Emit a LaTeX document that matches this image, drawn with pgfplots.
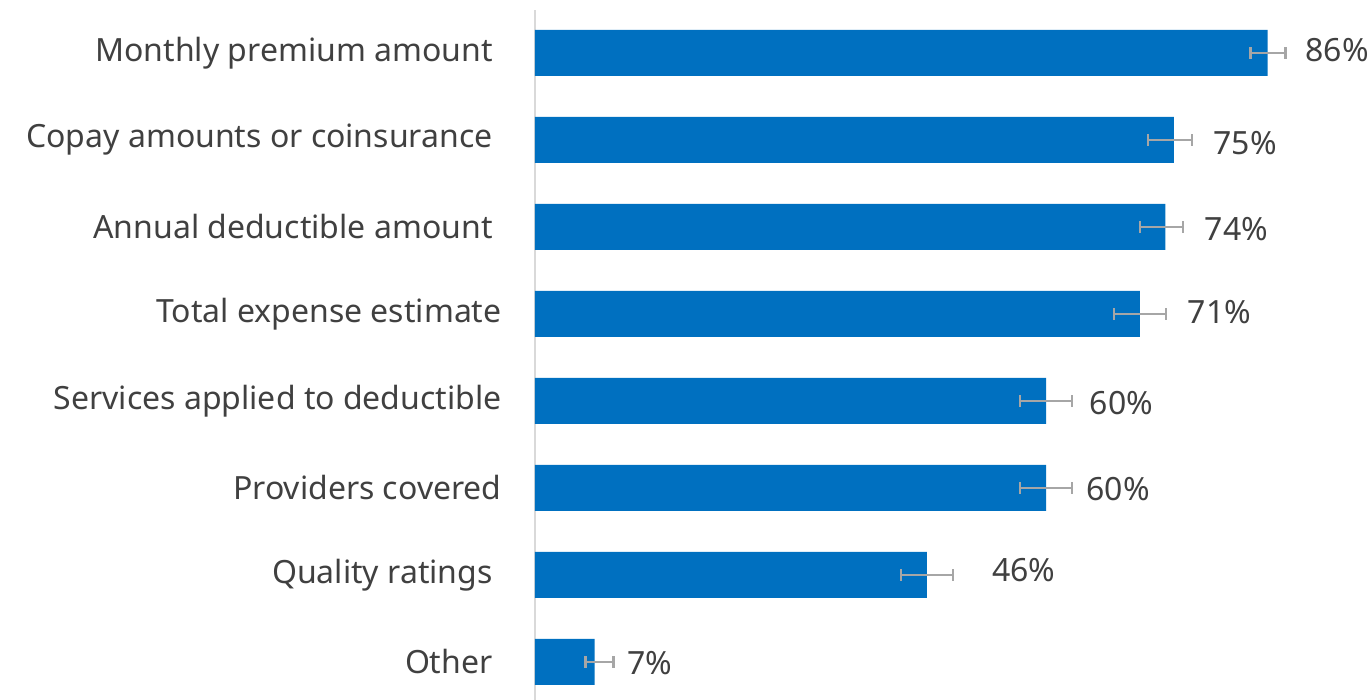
\documentclass[border=0pt]{standalone}
\usepackage{pgfplots}
\pgfplotsset{compat=1.18}
\usepackage{pgfplotstable}
\usepackage{fontspec}
\setmainfont{Noto Sans}
\definecolor{barblue}{HTML}{0070C0}
\definecolor{errgray}{HTML}{A6A6A6}
\definecolor{txt}{HTML}{404040}
\definecolor{axgray}{HTML}{D9D9D9}

\pgfplotstableread{
y val eplus eminus
0 7 2.2 1.1
1 46 3.05 3.05
2 60 3.05 3.05
3 60 3.05 3.05
4 71 3.05 3.05
5 74 2.05 3.0
6 75 2.1 3.05
7 86 2.1 2.0
}\datatable

\newcommand{\lblfont}{\fontsize{16}{19}\selectfont}

\begin{document}
\begin{tikzpicture}
\begin{axis}[
  scale only axis,
  width=417pt, height=345pt,
  xmin=0, xmax=97.9,
  ymin=-0.437, ymax=7.494,
  axis x line=none,
  axis y line=left,
  axis line style={draw=axgray, line width=1pt, -},
  ytick={0,1,2,3,4,5,6,7},
  yticklabels={Other\hspace*{4.5pt},Quality ratings\hspace*{4.5pt},Providers covered,Services applied to deductible,Total expense estimate,Annual deductible amount\hspace*{4.5pt},Copay amounts or coinsurance\hspace*{4.5pt},Monthly premium amount\hspace*{4.5pt}},
  major tick length=0pt,
  yticklabel style={text=txt, font=\lblfont, inner sep=0pt},
  yticklabel shift=16.5pt,
  clip=false,
]
\addplot[xbar, bar width=23pt, bar shift=0pt, fill=barblue, draw=none,
  error bars/.cd, x dir=both, x explicit,
  error bar style={errgray, line width=1.3pt},
  error mark options={errgray, line width=1.3pt, mark size=2.9pt, rotate=90}]
  table[x=val, y=y, x error plus=eplus, x error minus=eminus]{\datatable};
\foreach \lx/\ly/\t in {10.8/-0.01/7, 53.6/1.06/46, 64.7/1.99/60, 65.1/2.98/60, 76.6/4.02/71, 78.6/4.98/74, 79.6/5.96/75, 90.4/7.03/86}{
  \edef\temp{\noexpand\node[anchor=west, inner sep=0pt, text=txt, font=\noexpand\lblfont] at (axis cs:\lx,\ly) {\t\noexpand\%};}
  \temp
}
\coordinate (bl) at (rel axis cs:0,0);
\coordinate (tr) at (rel axis cs:1,1);
\end{axis}
\pgfresetboundingbox
\path[use as bounding box] ([xshift=-267.5pt]bl) rectangle ([yshift=5pt]tr);
\end{tikzpicture}
\end{document}
